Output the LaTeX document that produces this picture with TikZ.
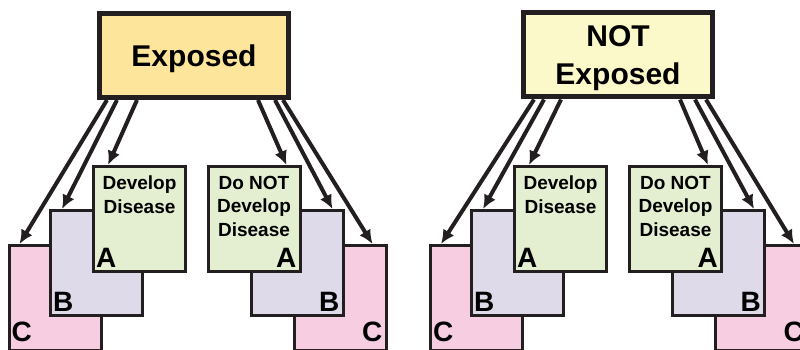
\documentclass[tikz,border=0pt]{standalone}
\usepackage{fontspec}
\setmainfont{Liberation Sans}
\usepackage{tikz}
\usetikzlibrary{arrows.meta,positioning,calc}
\definecolor{ink}{HTML}{231F20}
\definecolor{expo}{HTML}{FDE59C}
\definecolor{noexpo}{HTML}{FBF8C9}
\definecolor{cellA}{HTML}{E3EFD0}
\definecolor{cellB}{HTML}{DFDAEA}
\definecolor{cellC}{HTML}{F6CDE1}
\tikzset{
  topbox/.style={rectangle, draw=ink, line width=5pt, fill=#1, minimum width=189pt,
                 minimum height=84pt, align=center, text depth=0pt,
                 font=\fontsize{30}{38}\selectfont\bfseries},
  cellbox/.style={rectangle, draw=ink, line width=3pt, fill=#1, minimum width=92pt,
                  minimum height=105pt, inner sep=0pt},
  letterL/.style 2 args={label={[anchor=south west, inner sep=0pt, xshift=4pt, yshift=#2,
                  font=\fontsize{28}{28}\selectfont\bfseries]south west:#1}},
  letterR/.style 2 args={label={[anchor=south east, inner sep=0pt, xshift=-5pt, yshift=#2,
                  font=\fontsize{28}{28}\selectfont\bfseries]south east:#1}},
  heading/.style={label={[anchor=north, inner sep=0pt, yshift=-11pt, align=center,
                  font=\fontsize{19}{23.5}\selectfont\bfseries]north:#1}},
  arr/.style={-{Latex[length=14pt, width=13pt]}, line width=4pt, draw=ink},
}

\begin{document}
\begin{tikzpicture}[x=1pt, y=-1pt]
    \useasboundingbox (0,0) rectangle (800,350);
    \clip (0,0) rectangle (800,350);
    % exposed group
    \node[topbox=expo] (ex) at (194,55.5) {Exposed};
    \node[cellbox=cellC, letterL={C}{10pt}] (c1) at (55,298) {};
    \node[cellbox=cellB, letterL={B}{5pt}] (b1) at (96.5,263) {};
    \node[cellbox=cellA, letterL={A}{5pt}, heading={Develop\\Disease}] (a1) at (139.5,219) {};
    \node[cellbox=cellC, letterR={C}{10pt}] (c2) at (340,298) {};
    \node[cellbox=cellB, letterR={B}{5pt}] (b2) at (297,263) {};
    \node[cellbox=cellA, letterR={A}{5pt}, heading={Do NOT\\Develop\\Disease}] (a2) at (254,219) {};
    \draw[arr] ([xshift=10pt]ex.south west) -- ([xshift=12pt]c1.north west);
    \draw[arr] ([xshift=20pt]ex.south west) -- ([xshift=13pt]b1.north west);
    \draw[arr] ([xshift=40pt]ex.south west) -- ([xshift=16pt]a1.north west);
    \draw[arr] ([xshift=-33pt]ex.south east) -- ([xshift=-15pt]a2.north east);
    \draw[arr] ([xshift=-16pt]ex.south east) -- ([xshift=-12pt]b2.north east);
    \draw[arr] ([xshift=-8pt]ex.south east) -- ([xshift=-15pt]c2.north east);
    % not exposed group
    \node[topbox=noexpo] (nex) at (618,55) {NOT\\Exposed};
    \node[cellbox=cellC, letterL={C}{10pt}] (c3) at (476.5,298) {};
    \node[cellbox=cellB, letterL={B}{5pt}] (b3) at (517.5,263) {};
    \node[cellbox=cellA, letterL={A}{5pt}, heading={Develop\\Disease}] (a3) at (560.5,219) {};
    \node[cellbox=cellC, letterR={C}{10pt}] (c4) at (761.5,298) {};
    \node[cellbox=cellB, letterR={B}{5pt}] (b4) at (718.5,263) {};
    \node[cellbox=cellA, letterR={A}{5pt}, heading={Do NOT\\Develop\\Disease}] (a4) at (675.5,219) {};
    \draw[arr] ([xshift=13pt]nex.south west) -- ([xshift=12pt]c3.north west);
    \draw[arr] ([xshift=23pt]nex.south west) -- ([xshift=13pt]b3.north west);
    \draw[arr] ([xshift=40pt]nex.south west) -- ([xshift=16pt]a3.north west);
    \draw[arr] ([xshift=-35pt]nex.south east) -- ([xshift=-15pt]a4.north east);
    \draw[arr] ([xshift=-20pt]nex.south east) -- ([xshift=-12pt]b4.north east);
    \draw[arr] ([xshift=-9pt]nex.south east) -- ([xshift=-15pt]c4.north east);
  \end{tikzpicture}
\end{document}
